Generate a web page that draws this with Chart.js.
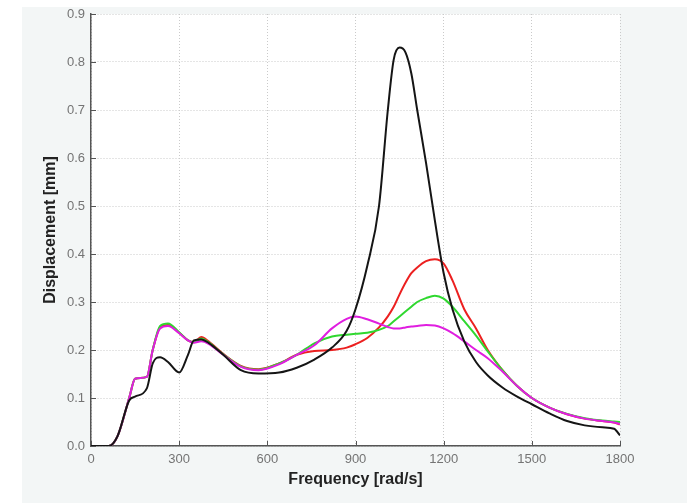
<!DOCTYPE html>
<html>
<head>
<meta charset="utf-8">
<script src="https://cdn.jsdelivr.net/npm/chart.js@4"></script>
<style>
  html, body { margin: 0; padding: 0; background: #ffffff; }
  #wrap { width: 687px; height: 503px; }
</style>
</head>
<body>
<div id="wrap"><canvas id="respChart" width="687" height="503"></canvas></div>
<script>
// Frequency points (rad/s) shared by all curves
const freq = [0, 60, 90, 130, 150, 190, 210, 235, 262, 300, 330, 350, 375, 400, 450, 510, 570, 640, 700, 760,
  820, 870, 900, 940, 980, 1010, 1030, 1050, 1070, 1090, 1110, 1140, 1170, 1200, 1230, 1270, 1310, 1350,
  1400, 1450, 1500, 1560, 1620, 1680, 1740, 1780, 1800];

// Displacement [mm]
const blackVals = [0, 0, 0.02, 0.095, 0.103, 0.12, 0.172, 0.185, 0.175, 0.153, 0.19, 0.22, 0.222, 0.215, 0.19, 0.158, 0.151, 0.153, 0.163, 0.18,
  0.205, 0.24, 0.285, 0.375, 0.5, 0.7, 0.805, 0.83, 0.82, 0.776, 0.70, 0.59, 0.47, 0.36, 0.285, 0.218, 0.175, 0.147,
  0.122, 0.103, 0.087, 0.068, 0.052, 0.043, 0.039, 0.036, 0.022];

const redVals = [0, 0, 0.02, 0.1, 0.14, 0.144, 0.2, 0.247, 0.252, 0.236, 0.22, 0.216, 0.227, 0.218, 0.192, 0.167, 0.16, 0.172, 0.19, 0.198,
  0.2, 0.205, 0.212, 0.225, 0.247, 0.27, 0.29, 0.316, 0.34, 0.36, 0.372, 0.385, 0.389, 0.38, 0.345, 0.285, 0.245, 0.2,
  0.158, 0.125, 0.1, 0.08, 0.066, 0.057, 0.052, 0.049, 0.045];

const greenVals = [0, 0, 0.02, 0.1, 0.14, 0.144, 0.2, 0.25, 0.255, 0.237, 0.22, 0.216, 0.224, 0.216, 0.191, 0.166, 0.159, 0.172, 0.19, 0.214,
  0.228, 0.232, 0.234, 0.236, 0.242, 0.25, 0.26, 0.27, 0.28, 0.29, 0.3, 0.308, 0.313, 0.307, 0.29, 0.26, 0.23, 0.197,
  0.158, 0.125, 0.1, 0.08, 0.067, 0.058, 0.053, 0.051, 0.05];

const magentaVals = [0, 0, 0.02, 0.1, 0.14, 0.144, 0.2, 0.245, 0.25, 0.235, 0.22, 0.215, 0.218, 0.213, 0.19, 0.165, 0.158, 0.17, 0.19, 0.21,
  0.245, 0.265, 0.27, 0.264, 0.255, 0.248, 0.245, 0.245, 0.247, 0.249, 0.25, 0.252, 0.251, 0.245, 0.235, 0.218, 0.2, 0.183,
  0.155, 0.125, 0.1, 0.08, 0.066, 0.057, 0.052, 0.049, 0.046];

// Axis ticks
const xTicks = [0, 300, 600, 900, 1200, 1500, 1800];
const yTicks = [0, 0.1, 0.2, 0.3, 0.4, 0.5, 0.6, 0.7, 0.8, 0.9];

const toPoints = vals => freq.map((f, i) => ({ x: f, y: vals[i] }));

// Grey figure background + white axes box
const backdrop = {
  id: 'backdrop',
  beforeDraw(chart) {
    const { ctx, chartArea: a } = chart;
    ctx.save();
    ctx.fillStyle = '#f3f6f6';
    ctx.fillRect(22, 7, chart.width - 22, chart.height - 7);
    ctx.fillStyle = '#ffffff';
    ctx.fillRect(a.left, a.top, a.right - a.left, a.bottom - a.top);
    ctx.restore();
  }
};

// MATLAB style ticks pointing into the axes box
const innerTicks = {
  id: 'innerTicks',
  beforeDatasetsDraw(chart) {
    const { ctx, chartArea: a, scales } = chart;
    ctx.save();
    ctx.strokeStyle = '#555';
    ctx.lineWidth = 1;
    ctx.beginPath();
    xTicks.forEach(v => {
      const px = Math.round(scales.x.getPixelForValue(v)) + 0.5;
      ctx.moveTo(px, a.bottom); ctx.lineTo(px, a.bottom - 5);
    });
    yTicks.forEach(v => {
      const py = Math.round(scales.y.getPixelForValue(v)) + 0.5;
      ctx.moveTo(a.left, py); ctx.lineTo(a.left + 5, py);
    });
    ctx.stroke();
    ctx.restore();
  }
};

const line = (vals, color, order) => ({
  data: toPoints(vals),
  borderColor: color,
  borderWidth: 2,
  pointRadius: 0,
  fill: false,
  cubicInterpolationMode: 'monotone',
  order
});

const tickFont = { family: 'Liberation Sans, Arial, sans-serif', size: 13 };
const titleFont = { family: 'Liberation Sans, Arial, sans-serif', size: 16, weight: 'bold' };

new Chart(document.getElementById('respChart').getContext('2d'), {
  type: 'line',
  data: {
    datasets: [
      line(blackVals, '#151515', 1),
      line(magentaVals, '#e01ee0', 2),
      line(greenVals, '#2fd82f', 3),
      line(redVals, '#ec2020', 4)
    ]
  },
  options: {
    responsive: false,
    animation: false,
    layout: { padding: { top: 14, right: 67, left: 0, bottom: 0 } },
    plugins: { legend: { display: false }, tooltip: { enabled: false } },
    scales: {
      x: {
        type: 'linear',
        min: 0,
        max: 1800,
        afterBuildTicks: s => { s.ticks = xTicks.map(v => ({ value: v })); },
        afterFit: s => { s.height = 57; },
        ticks: { color: '#747474', font: tickFont, padding: 6, maxRotation: 0, callback: v => String(v) },
        grid: { color: '#cacaca', lineWidth: 1, drawTicks: false },
        border: { display: true, color: '#555', width: 1.5, dash: [1, 2] },
        title: { display: true, text: 'Frequency [rad/s]', color: '#222', font: titleFont, padding: { top: 0, bottom: 14 } }
      },
      y: {
        min: 0,
        max: 0.9,
        afterBuildTicks: s => { s.ticks = yTicks.map(v => ({ value: v })); },
        afterFit: s => { s.width = 91; },
        ticks: { color: '#747474', font: tickFont, padding: 6, callback: v => v.toFixed(1) },
        grid: { color: '#cacaca', lineWidth: 1, drawTicks: false },
        border: { display: true, color: '#555', width: 1.5, dash: [1, 2] },
        title: { display: true, text: 'Displacement [mm]', color: '#222', font: titleFont, padding: { top: 41, bottom: 0 } }
      }
    }
  },
  plugins: [backdrop, innerTicks]
});
</script>
</body>
</html>
